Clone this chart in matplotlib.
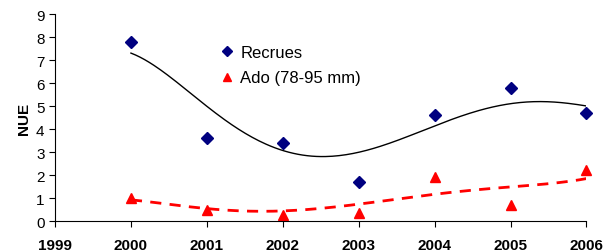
import matplotlib
matplotlib.use("Agg")
import matplotlib.pyplot as plt
import numpy as np

years = [2000, 2001, 2002, 2003, 2004, 2005, 2006]
recrues = [7.8, 3.6, 3.4, 1.7, 4.6, 5.8, 4.7]
ado = [1.0, 0.48, 0.28, 0.35, 1.9, 0.7, 2.2]

# courbes de tendance, tous les demi-ans
tend_x = [2000, 2000.5, 2001, 2001.5, 2002, 2002.5, 2003,
          2003.5, 2004, 2004.5, 2005, 2005.5, 2006]
tend_recrues = [7.30, 6.32, 4.95, 3.86, 3.06, 2.80, 2.99,
                3.49, 4.13, 4.72, 5.13, 5.16, 5.01]
tend_ado = [0.91, 0.74, 0.57, 0.42, 0.36, 0.57, 0.81,
            0.96, 1.13, 1.29, 1.51, 1.65, 1.83]

plt.rcParams['font.family'] = ['Liberation Sans', 'DejaVu Sans']

fig = plt.figure(figsize=(6.08, 2.53), dpi=100)
ax = fig.add_axes([0.0905, 0.1225, 0.874, 0.818])

# lissage polynomial des valeurs lues
tx = np.array(tend_x) - 2000
xs = np.linspace(0, 6, 200)
p1 = np.polyfit(tx, tend_recrues, 5)
p2 = np.polyfit(tx, tend_ado, 5)
ax.plot(xs + 2000, np.polyval(p1, xs), color='black', lw=1)
ax.plot(xs + 2000, np.polyval(p2, xs), color='red', lw=2, ls=(0, (4, 3)))

ax.plot(years, recrues, 'D', color='#000080', ms=6, label='Recrues', clip_on=False)
ax.plot(years, ado, '^', color='red', ms=7, label='Ado (78-95 mm)', clip_on=False)

ax.set_xlim(1999, 2006)
ax.set_ylim(0, 9)
ax.set_xticks(range(1999, 2007))
ax.set_yticks(range(0, 10))
for lab in ax.get_xticklabels():
    lab.set_fontweight('bold')
ax.tick_params(labelsize=11, direction='out', length=4)
ax.tick_params(axis='x', pad=8)
ax.set_ylabel('NUE', fontweight='bold', fontsize=11)
ax.spines['top'].set_visible(False)
ax.spines['right'].set_visible(False)

ax.legend(loc='upper left', bbox_to_anchor=(0.28, 0.925), frameon=False,
          fontsize=12, handletextpad=0.3, handlelength=1, markerscale=0.8,
          labelspacing=0.65)

fig.savefig('out.png', dpi=100)
